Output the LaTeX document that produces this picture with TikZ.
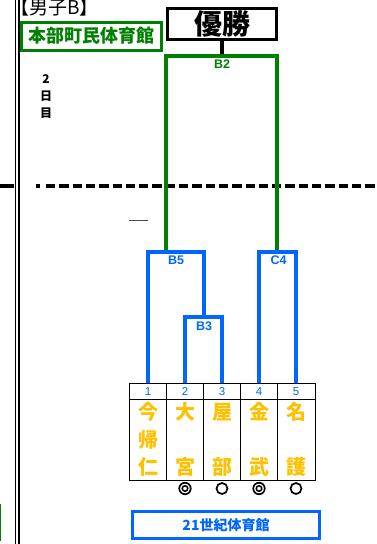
\documentclass[tikz,border=0pt]{standalone}
\usepackage{fontspec}
\setmainfont{Liberation Sans}
\newfontfamily\jpfont{Noto Sans CJK JP}
\definecolor{hallgreen}{RGB}{0,128,0}
\definecolor{drawblue}{RGB}{0,102,255}
\definecolor{teamorange}{RGB}{255,192,0}

\begin{document}
\begin{tikzpicture}
  [
    x=1pt,y=-1pt,
    greenline/.style={draw=hallgreen,line width=3.3pt},
    blueline/.style={draw=drawblue,line width=3.3pt},
    tableline/.style={draw=black,line width=0.9pt},
    matchlabel/.style={inner sep=0pt,font=\bfseries\fontsize{12.5}{12.5}\selectfont},
    hallbox/.style={draw,line width=3pt,inner sep=0pt,font=\jpfont\bfseries\fontsize{18}{18}\selectfont},
    teamchar/.style={inner sep=0pt,text=teamorange,font=\jpfont\bfseries\fontsize{20}{20}\selectfont},
    numlabel/.style={inner sep=0pt,text=drawblue,font=\fontsize{11.5}{11.5}\selectfont},
    resultmark/.style={draw,circle,line width=1.7pt,inner sep=0pt}
  ]
  \useasboundingbox (0,0) rectangle (377,544);
  % page frame
  \draw [line width=1.8pt] (15.5,0) -- (15.5,544);
  \draw [line width=1.8pt] (18.8,0) -- (18.8,544);
  \draw [hallgreen,line width=1.8pt] (0.5,504) -- (0.5,541);
  \draw [line width=3.2pt] (0,186) -- (14,186);
  \draw [line width=3.2pt] (36,186) -- (39.5,186);
  \draw [line width=3.2pt,dash pattern=on 9.3pt off 4pt] (46,186) -- (377,186);
  \draw [black!70,line width=1pt] (129,220) -- (148,220);
  % heading
  \node [inner sep=0pt,anchor=base west,font=\jpfont\fontsize{19}{19}\selectfont] (title) at (10,14.5) {【男子B】};
  \node [hallbox,draw=hallgreen,text=hallgreen,minimum width=140pt,minimum height=28pt] (hallA) at (91,36) {本部町民体育館};
  \node [inner sep=0pt,font=\jpfont\bfseries\fontsize{12}{12}\selectfont] (day2) at (46,79) {2};
  \node [inner sep=0pt,font=\jpfont\bfseries\fontsize{12}{12}\selectfont] (dayA) at (46,96) {日};
  \node [inner sep=0pt,font=\jpfont\bfseries\fontsize{12}{12}\selectfont] (dayB) at (46,113) {目};
  \node [draw,line width=3pt,inner sep=0pt,minimum width=109pt,minimum height=31pt,
         font=\jpfont\bfseries\fontsize{28}{28}\selectfont] (win) at (222,24) {優勝};
  % table
  \draw [tableline] (129,383) rectangle (315,480);
  \draw [tableline] (129,399) -- (315,399);
  \foreach \x in {166.5,203.5,240.5,277.5} {
      \draw [tableline] (\x,383) -- (\x,480);
  }
  \foreach \i/\x/\a/\c in {1/148/今/仁,2/185/大/宮,3/222/屋/部,4/259/金/武,5/296/名/護} {
      \coordinate (t\i) at (\x,383);
      \node [numlabel] (n\i) at (\x,391.5) {\i};
      \node [teamchar] (top\i) at (\x,412) {\a};
      \node [teamchar] (bot\i) at (\x,467) {\c};
  }
  \node [teamchar] (mid1) at (148,440) {帰};
  % results
  \foreach \i/\x in {2/185,4/259} {
      \node [resultmark,minimum size=11.5pt] (r\i) at (\x,488.5) {};
      \node [resultmark,line width=1.5pt,minimum size=5.5pt] (rr\i) at (\x,488.5) {};
  }
  \foreach \i/\x in {3/222,5/296} {
      \node [resultmark,minimum size=11pt] (r\i) at (\x,488.5) {};
  }
  \node [hallbox,draw=drawblue,line width=3.3pt,text=drawblue,minimum width=187pt,minimum height=27pt,
         font=\jpfont\bfseries\fontsize{14}{14}\selectfont] (hallB) at (226,525) {21世紀体育館};
  % bracket
  \coordinate (b3) at (204,317);
  \coordinate (b5) at (166,252);
  \coordinate (c4) at (277,252);
  \coordinate (b2) at (222,56);
  \draw [line width=3.3pt] (win.south) -- (b2);
  \draw [greenline] (b5) |- (b2) -| (c4);
  \draw [blueline] (t1) |- (b5) -| (b3);
  \draw [blueline] (t2) |- (b3) -| (t3);
  \draw [blueline] (t4) |- (c4) -| (t5);
  \node [matchlabel,text=hallgreen] (lb2) at (222,64) {B2};
  \node [matchlabel,text=drawblue] (lb5) at (176,260.5) {B5};
  \node [matchlabel,text=drawblue] (lb3) at (204,326) {B3};
  \node [matchlabel,text=drawblue] (lc4) at (278.5,260) {C4};
\end{tikzpicture}
\end{document}
